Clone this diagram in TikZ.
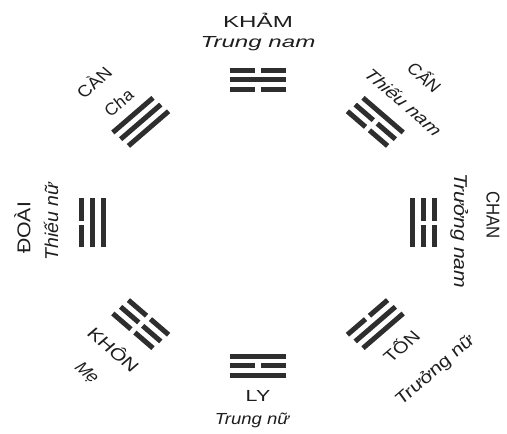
\documentclass[tikz,border=0pt]{standalone}
\usepackage{fontspec}
\setmainfont{Liberation Sans}
\definecolor{barcol}{HTML}{2E2E2E}
\definecolor{txtcol}{HTML}{1E1E1E}
\tikzset{
  bar/.style={line width=5pt, draw=barcol},
  yangline/.pic={\draw[bar] (-24.5,0) -- (24.5,0);},
  yinline/.pic={\draw[bar] (-24.5,0) -- (-2.4,0); \draw[bar] (2.4,0) -- (24.5,0);},
  gua/.style={font=\fontsize{16}{16}\selectfont, text=txtcol, inner sep=0pt,
              text height=11.5pt, text depth=0pt},
  role/.style={gua, font=\fontsize{16}{16}\selectfont\itshape},
  wide/.style={xscale=#1},
}
% trigram facing outward at angle #1; lines listed from the inner (bottom) line out
\newcommand\trigram[4]{%
  \begin{scope}[shift={(#1:143)}, rotate=#1-90]
    \pic at (0,-9.5) {#2line};
    \pic at (0,0)    {#3line};
    \pic at (0,9.5)  {#4line};
  \end{scope}}
\begin{document}
\begin{tikzpicture}[x=1pt, y=1pt]
\useasboundingbox (0,0) rectangle (507,434);
\begin{scope}[shift={(258,211)}, xscale=1.16, transform shape]
  % the eight trigrams
  \trigram{90}{yin}{yang}{yin}      % Kham
  \trigram{-90}{yang}{yin}{yang}    % Ly
  \trigram{180}{yang}{yang}{yin}    % Doai
  \trigram{0}{yang}{yin}{yin}       % Chan
  \trigram{135}{yang}{yang}{yang}   % Can
  \trigram{45}{yin}{yin}{yang}      % Can (mountain)
  \trigram{225}{yin}{yin}{yin}      % Khon
  \trigram{-45}{yin}{yang}{yang}    % Ton
  % names and family roles
  \node[gua, wide=1.3]   (n-kham) at (90:201)   {KHẢM};
  \node[role, wide=1.3]  (r-kham) at (90:181)   {Trung nam};
  \node[gua, wide=1.15]  (n-ly)   at (-90:173)  {LY};
  \node[role]            (r-ly)   at (-91.5:196) {Trung nữ};
  \node[gua, rotate=90, wide=1.33]  (n-doai) at (181.4:202) {ĐOÀI};
  \node[role, rotate=90, wide=1.22] (r-doai) at (179.6:178) {Thiếu nữ};
  \node[gua, rotate=-90, wide=1.05]  (n-chan) at (2.3:203)  {CHAN};
  \node[role, rotate=-90, wide=1.32] (r-chan) at (-2.5:175) {Trưởng nam};
  \node[gua, rotate=45, wide=1.05]  (n-can) at (135.2:199) {CÀN};
  \node[role, rotate=45]            (r-can) at (135:170)   {Cha};
  \node[gua, rotate=-45]             (n-cann) at (45.4:204) {CẤN};
  \node[role, rotate=-45, wide=1.15] (r-cann) at (44:174)   {Thiếu nam};
  \node[gua, rotate=-45, wide=1.2]   (n-khon) at (225.5:178) {KHÔN};
  \node[role, rotate=-45]            (r-khon) at (225.4:209) {Mẹ};
  \node[gua, rotate=45, wide=1.1]   (n-ton) at (-45:175) {TỐN};
  \node[role, rotate=45, wide=1.2]  (r-ton) at (-44:211) {Trưởng nữ};
\end{scope}
\end{tikzpicture}
\end{document}
